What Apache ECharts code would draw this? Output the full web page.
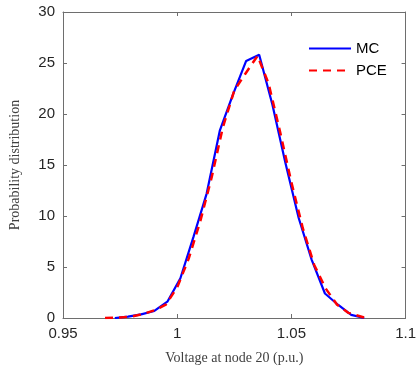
<!DOCTYPE html>
<html>
<head>
<meta charset="utf-8">
<script src="https://cdn.jsdelivr.net/npm/echarts@6/dist/echarts.min.js"></script>
<style>
  html, body { margin: 0; padding: 0; background: #fff; }
  #chart { width: 419px; height: 371px; }
</style>
</head>
<body>
<div id="chart"></div>
<script>
// MC histogram curve
const mcVoltage = [0.9727, 0.9785, 0.9842, 0.9900, 0.9957, 1.0014, 1.0072, 1.0129, 1.0187, 1.0244,
  1.0302, 1.0359, 1.0417, 1.0474, 1.0532, 1.0589, 1.0647, 1.0704, 1.0762, 1.0819]
const mcDensity = [0, 0.13, 0.36, 0.69, 1.6, 3.9, 8.0, 12.2, 18.4, 21.9,
  25.2, 25.8, 20.9, 15.2, 9.8, 5.7, 2.4, 1.3, 0.3, 0]

// PCE curve
const pceVoltage = [0.9684, 0.975, 0.98, 0.985, 0.99, 0.995, 1.0, 1.005, 1.01, 1.015, 1.02, 1.025,
  1.03, 1.0352, 1.04, 1.045, 1.05, 1.055, 1.06, 1.065, 1.07, 1.075, 1.0826]
const pceDensity = [0, 0.05, 0.15, 0.38, 0.75, 1.3, 3.0, 5.8, 9.4, 13.7, 18.7, 22.3,
  24.0, 25.7, 23.0, 18.3, 13.3, 8.8, 5.2, 2.9, 1.3, 0.5, 0]

const xTicks = { min: 0.95, max: 1.1, interval: 0.05 }
const yTicks = { min: 0, max: 30, interval: 5 }

const chart = echarts.init(document.getElementById('chart'))

const axisColor = '#262626'
const frameColor = '#6e6e6e'

// box axes like matlab: ticks inside on all four sides
const frameAxis = (position) => ({
  position: position,
  axisLine: { show: true, onZero: false, lineStyle: { color: frameColor, width: 1 } },
  axisTick: { show: true, inside: true, length: 4, lineStyle: { color: frameColor } },
  splitLine: { show: false }
})

const option = {
  animation: false,
  backgroundColor: '#fff',
  grid: { left: 59, right: 11, top: 12, bottom: 53, containLabel: false },
  legend: {
    left: 303,
    top: 36,
    orient: 'vertical',
    itemWidth: 42,
    itemHeight: 14,
    itemGap: 7,
    itemStyle: { opacity: 0 },
    textStyle: { fontFamily: 'Liberation Sans', fontSize: 15, color: '#000' },
    data: ['MC', 'PCE']
  },
  xAxis: [
    Object.assign(frameAxis('bottom'), {
      type: 'value',
      min: xTicks.min,
      max: xTicks.max,
      interval: xTicks.interval,
      name: 'Voltage at node 20 (p.u.)',
      nameLocation: 'middle',
      nameGap: 33,
      nameTextStyle: { fontFamily: 'Liberation Serif', fontSize: 14, color: '#404040' },
      axisLabel: {
        fontFamily: 'Liberation Sans', fontSize: 15, color: axisColor, margin: 8,
        formatter: v => String(+v.toFixed(2))
      }
    }),
    Object.assign(frameAxis('top'), {
      type: 'value',
      min: xTicks.min,
      max: xTicks.max,
      interval: xTicks.interval,
      axisLabel: { show: false }
    })
  ],
  yAxis: [
    Object.assign(frameAxis('left'), {
      type: 'value',
      min: yTicks.min,
      max: yTicks.max,
      interval: yTicks.interval,
      name: 'Probability distribution',
      nameLocation: 'middle',
      nameGap: 41,
      nameTextStyle: { fontFamily: 'Liberation Serif', fontSize: 14, color: '#404040' },
      axisLabel: { fontFamily: 'Liberation Sans', fontSize: 15, color: axisColor, margin: 8 }
    }),
    Object.assign(frameAxis('right'), {
      type: 'value',
      min: yTicks.min,
      max: yTicks.max,
      interval: yTicks.interval,
      axisLabel: { show: false }
    })
  ],
  series: [
    {
      name: 'MC',
      type: 'line',
      symbol: 'none',
      color: '#0000ff',
      lineStyle: { color: '#0000ff', width: 2.2 },
      data: mcVoltage.map((v, i) => [v, mcDensity[i]])
    },
    {
      name: 'PCE',
      type: 'line',
      symbol: 'none',
      color: '#ff0000',
      lineStyle: { color: '#ff0000', width: 2.5, type: [8, 6] },
      data: pceVoltage.map((v, i) => [v, pceDensity[i]])
    }
  ]
}

chart.setOption(option)
</script>
</body>
</html>
